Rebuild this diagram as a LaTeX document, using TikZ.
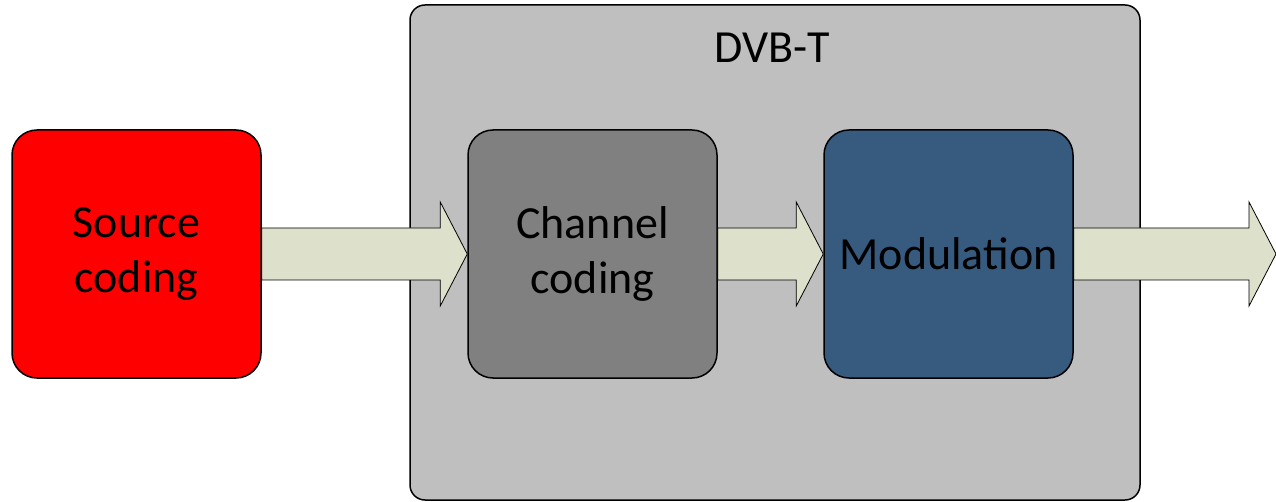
\documentclass[tikz,border=0pt]{standalone}
\usepackage{fontspec}
\setmainfont{Carlito}
\usetikzlibrary{positioning}

\definecolor{dvbgray}{HTML}{BFBFBF}
\definecolor{chgray}{HTML}{808080}
\definecolor{modblue}{HTML}{375A7F}
\definecolor{arrowfill}{HTML}{DDE0CB}

\tikzset{
  block/.style={draw=black, line width=1.5pt, rounded corners=25pt,
    minimum width=249pt, minimum height=248pt, align=center,
    font=\fontsize{46}{55}\selectfont},
  flow/.style={draw=black, line width=0.8pt, fill=arrowfill, line join=miter}
}

% block arrow from the east side of #1 to the west side of #2
\newcommand{\flowarrow}[2]{%
  \draw[flow] ([yshift=26pt]#1.east) -- ([xshift=-27pt,yshift=26pt]#2)
    -- ([xshift=-27pt,yshift=52pt]#2) -- (#2)
    -- ([xshift=-27pt,yshift=-52pt]#2) -- ([xshift=-27pt,yshift=-26pt]#2)
    -- ([yshift=-26pt]#1.east) -- cycle;}

\begin{document}
\begin{tikzpicture}[x=1pt, y=-1pt, node distance=205.5pt]
  \useasboundingbox (0,0) rectangle (1276,502);

  % DVB-T frame
  \node[draw=black, line width=1.5pt, fill=dvbgray, rounded corners=15pt,
    minimum width=730pt, minimum height=495pt] (dvb) at (775,252.5) {};
  \node[font=\fontsize{46}{55}\selectfont] (dvbtitle) at (772,48) {DVB-T};

  \node[block, fill=red] (src) at (136.5,254) {Source\\coding};
  \node[block, fill=chgray, right=of src] (chan) {Channel\\coding};
  \node[block, fill=modblue, right=105.5pt of chan] (mod) {Modulation};
  \coordinate (out) at (1276,254);

  \flowarrow{src}{chan.west}
  \flowarrow{chan}{mod.west}
  \flowarrow{mod}{out}
\end{tikzpicture}
\end{document}
